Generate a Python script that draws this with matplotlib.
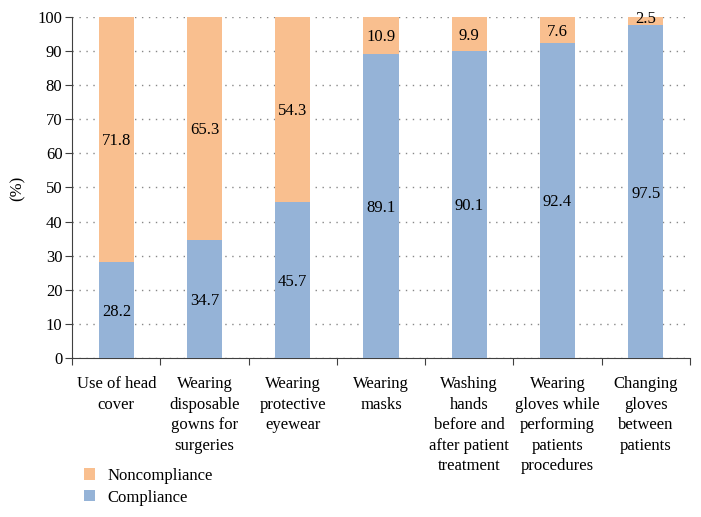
import matplotlib
matplotlib.use("Agg")
import matplotlib.pyplot as plt
import numpy as np

categories = ["Use of head\ncover", "Wearing\ndisposable\ngowns for\nsurgeries",
              "Wearing\nprotective\neyewear", "Wearing\nmasks",
              "Washing\nhands\nbefore and\nafter patient\ntreatment",
              "Wearing\ngloves while\nperforming\npatients\nprocedures",
              "Changing\ngloves\nbetween\npatients"]
compliance = [28.2, 34.7, 45.7, 89.1, 90.1, 92.4, 97.5]
noncompliance = [71.8, 65.3, 54.3, 10.9, 9.9, 7.6, 2.5]
yticks = list(range(0, 101, 10))

plt.rcParams['font.family'] = ['Liberation Serif', 'DejaVu Serif']
blue = '#95B3D7'
orange = '#F9BF8F'
fs = 12

fig = plt.figure(figsize=(7.01, 5.17), dpi=100)
ax = fig.add_axes([0.103, 0.3075, 0.881, 0.66])

x = np.arange(len(categories))
w = 0.4
b1 = ax.bar(x, compliance, w, color=blue, label='Compliance', zorder=3)
b2 = ax.bar(x, noncompliance, w, bottom=compliance, color=orange, label='Noncompliance', zorder=3)

for i in range(len(x)):
    ax.text(x[i], compliance[i] / 2, f"{compliance[i]:.1f}", ha='center', va='center_baseline', fontsize=fs, zorder=4)
    yy = compliance[i] + noncompliance[i] / 2
    if noncompliance[i] < 4:
        yy = 100.0
    ax.text(x[i], yy, f"{noncompliance[i]:.1f}", ha='center', va='center_baseline', fontsize=fs, zorder=4)

ax.set_xlim(-0.5, len(categories) - 0.5)
ax.set_ylim(0, 100)
ax.set_yticks(yticks)
ax.tick_params(axis='y', labelsize=fs, direction='out', length=5, pad=2, color='#404040')
ax.set_xticks(np.arange(-0.5, len(categories), 1.0))
ax.set_xticklabels([])
ax.set_xticks(x, minor=True)
ax.set_xticklabels(categories, minor=True, fontsize=fs, linespacing=1.38, va='top')
ax.tick_params(axis='x', which='minor', length=0, pad=13)
ax.tick_params(axis='x', which='major', length=5, direction='out', color='#404040')
ax.yaxis.grid(True, linestyle=(0, (1, 4)), color='#888888', linewidth=1, zorder=0)
for s in ['top', 'right']:
    ax.spines[s].set_visible(False)
ax.spines['left'].set_color('#404040')
ax.spines['bottom'].set_color('#404040')
fig.text(18 / 701, 1 - 188 / 517, '(%)', rotation=90, ha='center', va='center', fontsize=fs)

handles = [b2, b1]
fig.legend(handles, ['Noncompliance', 'Compliance'], loc='upper left', bbox_to_anchor=(0.098, 0.124),
           frameon=False, fontsize=fs, handlelength=0.65, handleheight=0.65, handletextpad=0.8,
           labelspacing=0.35)

fig.savefig('out.png', dpi=100)
